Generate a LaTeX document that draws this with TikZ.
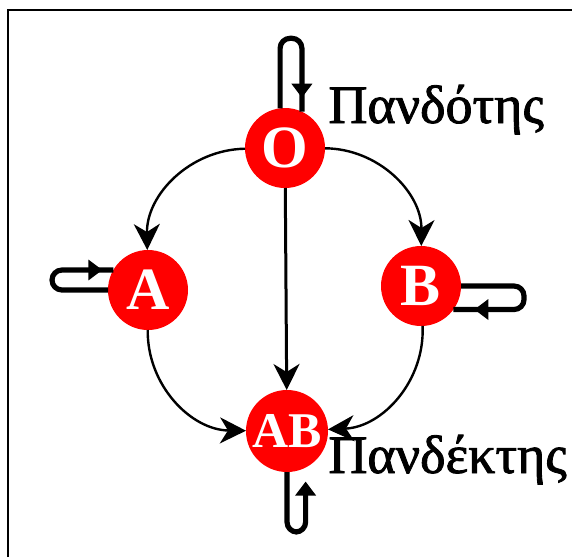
\documentclass[tikz,border=0pt]{standalone}
\usepackage{fontspec}
\setmainfont{Liberation Serif}
\newfontfamily\labelfont[FakeBold=1.6]{Liberation Serif}
\usetikzlibrary{arrows.meta,calc,decorations.markings}
\tikzset{
  bvertex/.style={circle, fill=red, text=white, minimum size=40pt, inner sep=0pt,
                  outer sep=0pt, font=\fontsize{30}{30}\selectfont\bfseries},
  bvsmall/.style={bvertex, minimum size=41pt, font=\fontsize{25}{25}\selectfont\bfseries},
  barc/.style   ={-{Stealth[length=13pt,width=13pt,inset=4pt]}, line width=1.2pt},
  bline/.style  ={barc, line width=1.5pt},
  bloop/.style  ={line width=2.6pt, rounded corners=5pt},
  bloopmid/.style={bloop, postaction={decorate},
                   decoration={markings, mark=at position #1 with
                               {\arrow{Triangle[length=7pt,width=10pt]}}}},
  blabel/.style ={anchor=base west, inner sep=0pt, font=\labelfont\fontsize{27}{27}\selectfont},
}
\begin{document}
\begin{tikzpicture}[x=0.5pt, y=-0.5pt]
    \useasboundingbox (0,0) rectangle (572,557);
    \draw[line width=1pt] (8,557) -- (8,10) -- (572,10);
    % blood groups
    \node[bvertex] (O)  at (285,148) {O};
    \node[bvertex] (A)  at (148,290) {A};
    \node[bvertex] (B)  at (421,286) {B};
    \node[bvsmall] (AB) at (287,431) {AB};
    \draw[barc] (O) to[bend right=45] (A);
    \draw[barc] (O) to[bend left=45]  (B);
    \draw[barc] (A) to[bend right=45] (AB);
    \draw[barc] (B) to[bend left=45]  (AB);
    \draw[bline] (O) -- (AB);
    % self loops
    \draw[bloopmid=-7pt]    (O.97)  -- ++(0,-70) -| (O.65);
    \draw[bloopmid=-5.5pt]  (A.180) -- ++(-56,0) |- (A.150);
    \draw[bloopmid=-10.5pt] (B.0)   -- ++(63,0)  |- (B.-36);
    \draw[bloop, -{Triangle[length=7pt,width=10pt]}, shorten >=7pt]
        (AB.-90) -- ++(0,60) -| (AB.-63);
    \node[blabel] (donor)     at (328,123) {Πανδότης};
    \node[blabel] (recipient) at (328,473) {Πανδέκτης};
\end{tikzpicture}
\end{document}
